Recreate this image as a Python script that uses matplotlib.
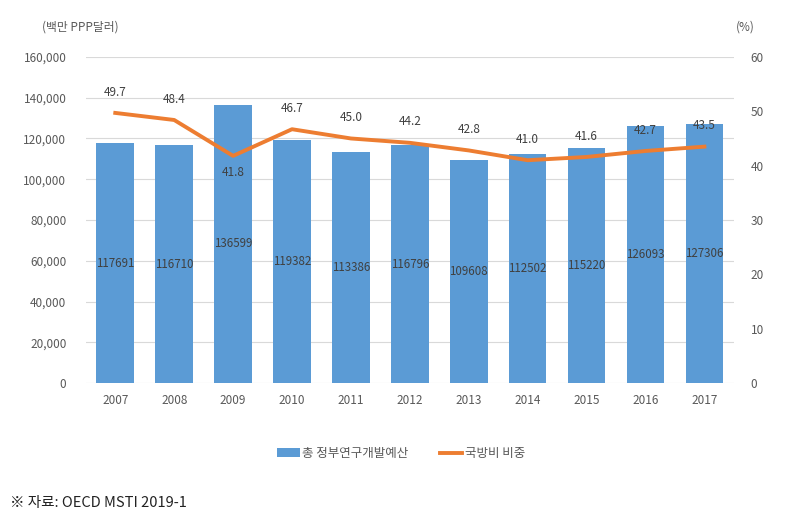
import matplotlib
matplotlib.use('Agg')
import matplotlib.pyplot as plt
from matplotlib.ticker import FuncFormatter

plt.rcParams['font.family'] = ['Noto Sans CJK KR', 'DejaVu Sans']

years = ['2007', '2008', '2009', '2010', '2011', '2012', '2013', '2014', '2015', '2016', '2017']
budget = [117691, 116710, 136599, 119382, 113386, 116796, 109608, 112502, 115220, 126093, 127306]
defense_share = [49.7, 48.4, 41.8, 46.7, 45.0, 44.2, 42.8, 41.0, 41.6, 42.7, 43.5]

bar_color = '#5B9BD5'
line_color = '#ED7D31'
text_color = '#595959'

fig = plt.figure(figsize=(8.02, 5.27), dpi=100)
ax1 = fig.add_axes([0.107, 0.273, 0.808, 0.619])
ax2 = ax1.twinx()

x = list(range(len(years)))
ax1.bar(x, budget, width=0.64, color=bar_color, zorder=2, label='총 정부연구개발예산')
for xi, v in zip(x, budget):
    ax1.text(xi, v / 2, str(v), ha='center', va='center', fontsize=8.3, color='#404040', zorder=3)

ax1.set_ylim(0, 160000)
ax1.set_yticks(range(0, 160001, 20000))
ax1.yaxis.set_major_formatter(FuncFormatter(lambda v, p: '{:,.0f}'.format(v)))
ax1.set_xlim(-0.5, len(years) - 0.5)
ax1.set_xticks(x)
ax1.set_xticklabels(years)
ax1.grid(axis='y', color='#D9D9D9', linewidth=0.8, zorder=0)
ax1.set_axisbelow(True)

ax2.plot(x, defense_share, color=line_color, linewidth=2.8, zorder=4, label='국방비 비중')
for xi, v in zip(x, defense_share):
    # 2009 label sits under the line
    dy = -12 if years[xi] == '2009' else 15
    ax2.annotate('{:.1f}'.format(v), (xi, v), textcoords='offset points', xytext=(0, dy),
                 ha='center', va='center', fontsize=8.5, color='#404040')
ax2.set_ylim(0, 60)
ax2.set_yticks(range(0, 61, 10))

for ax in (ax1, ax2):
    for s in ax.spines.values():
        s.set_visible(False)
    ax.tick_params(length=0, labelsize=8.5, colors=text_color)
ax1.tick_params(axis='y', pad=14)
ax1.tick_params(axis='x', pad=8)
ax2.tick_params(axis='y', pad=12)

fig.text(0.052, 0.948, '(백만 PPP달러)', fontsize=8.5, color=text_color, va='center')
fig.text(0.917, 0.948, '(%)', fontsize=8.5, color=text_color, va='center')

h1, l1 = ax1.get_legend_handles_labels()
h2, l2 = ax2.get_legend_handles_labels()
fig.legend(h1 + h2, l1 + l2, loc='center', bbox_to_anchor=(0.5, 0.139), ncol=2, frameon=False,
           fontsize=9, labelcolor=text_color, handlelength=1.8, handletextpad=0.2, columnspacing=2.5)

fig.text(0.012, 0.045, '※ 자료: OECD MSTI 2019-1', fontsize=10.5, color='#222222', va='center')

fig.savefig('out.png', dpi=100)
